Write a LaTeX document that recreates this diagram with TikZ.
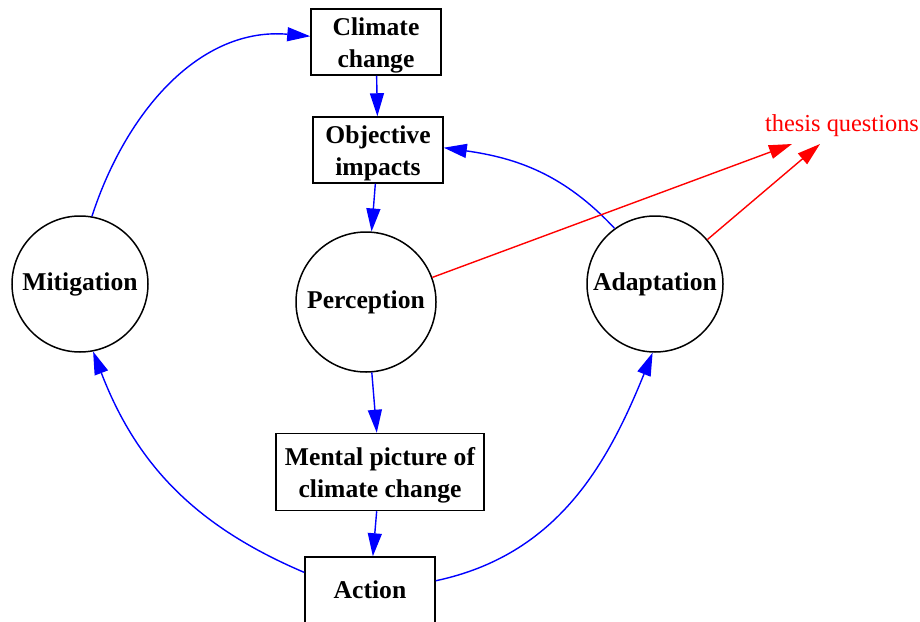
\documentclass[tikz,border=0pt]{standalone}
\usepackage{fontspec}
\setmainfont{Liberation Serif}
\usetikzlibrary{arrows.meta}

\begin{document}
\begin{tikzpicture}[x=0.5pt,y=0.5pt,>={Triangle[length=11.5pt,width=7pt]}]
        \tikzstyle{box}=[rectangle,draw=black,line width=0.75pt,align=center,inner xsep=2pt,inner ysep=0pt,minimum width=65pt,minimum height=33pt,font=\fontsize{12.8}{16}\selectfont\bfseries]
        \tikzstyle{state}=[circle,draw=black,line width=0.75pt,inner sep=0pt,minimum size=68pt,font=\fontsize{12.8}{16}\selectfont\bfseries]
        \tikzstyle{edge}=[blue,draw,line width=0.7pt,->]
        \tikzstyle{note}=[red,draw,line width=0.7pt,->]
        \useasboundingbox (0,0) rectangle (920,-621);
       \begin{scope}
         \node [box] (climate) at (376,-42) {\rule{0pt}{12.5pt}Climate\\change};
         \node [box] (impacts) at (378,-150) {\rule{0pt}{12.5pt}Objective\\impacts};
         \node [state,minimum size=70pt] (perception) at (366,-302) {Perception};
         \node [state] (mitigation) at (80,-284) {Mitigation};
         \node [state] (adaptation) at (655,-284) {Adaptation};
         \node [box,minimum width=104pt,minimum height=38.5pt] (mental) at (380,-472) {\rule{0pt}{12.5pt}Mental picture of\\climate change};
         \node [box] (action) at (370,-590) {Action};
         \node [text=red,inner sep=0pt,font=\fontsize{12.2}{14}\selectfont] (thesis) at (842,-126) {thesis questions};
         \coordinate (q1) at (792,-144);
         \coordinate (q2) at (820,-144);
         \path[edge] (climate) edge (impacts);
         \path[edge] (impacts) edge (perception);
         \path[edge] (perception) edge (mental);
         \path[edge] (mental) edge (action);
         \draw[edge] (mitigation.80) to [out=72,in=175] (climate.175);
         \draw[edge] (action.165) to [out=157,in=-69] (mitigation.-79);
         \draw[edge] (action.8) to [out=12,in=-112] (adaptation.-92);
         \draw[edge] (adaptation.126) to [out=133,in=-8] (impacts.2);
         \path[note] (perception) edge (q1);
         \path[note] (adaptation) edge (q2);
        \end{scope}
      \end{tikzpicture}
\end{document}
